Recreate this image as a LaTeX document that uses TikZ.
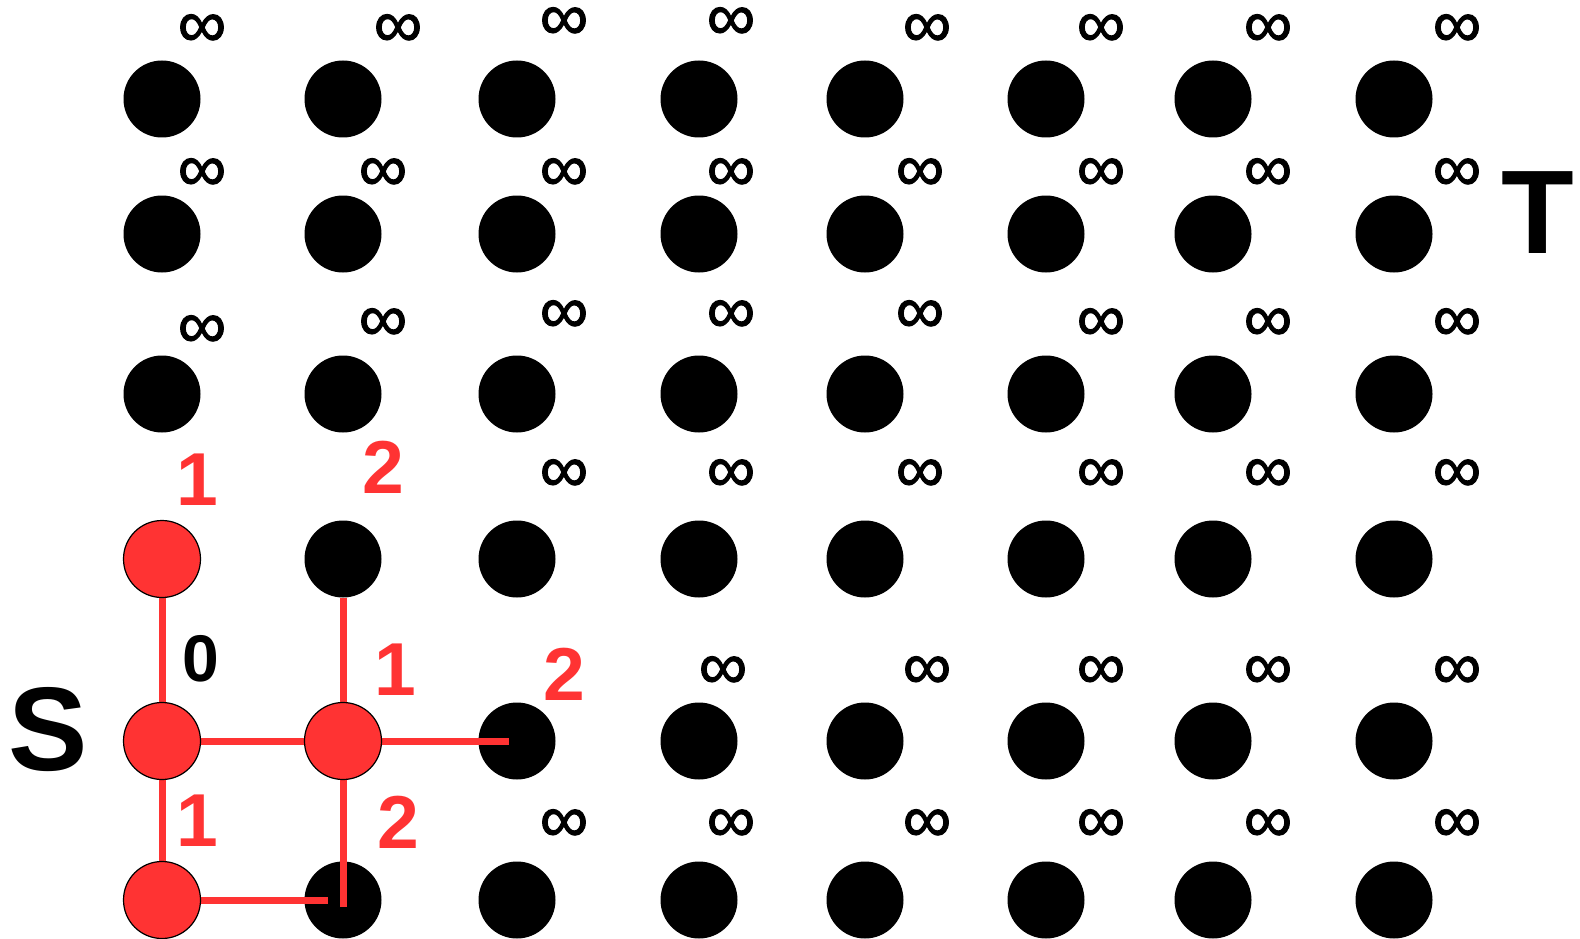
\documentclass[tikz,border=0pt]{standalone}
\usepackage{fontspec}
\setmainfont{Liberation Sans}
\newfontfamily\inffont[FakeBold=1.5]{Liberation Sans}
\definecolor{myred}{HTML}{FF3333}
\pgfdeclarelayer{lines}
\pgfdeclarelayer{front}
\pgfsetlayers{main,lines,front}
\begin{document}
\begin{tikzpicture}[x=1pt,y=-1pt,
  dot/.style={circle,fill=black,minimum size=77pt,inner sep=0pt},
  rdot/.style={circle,fill=myred,draw=black,line width=1.2pt,minimum size=77pt,inner sep=0pt},
  inf/.style={font=\inffont\fontsize{68}{68}\selectfont,inner sep=0pt,text height=30pt,text depth=0pt,yshift=-6pt},
  num/.style={font=\fontsize{75}{75}\selectfont\bfseries,inner sep=0pt,text=myred},
  zero/.style={font=\fontsize{66}{66}\selectfont\bfseries,inner sep=0pt,text=black},
  big/.style={font=\fontsize{119}{119}\selectfont\bfseries,inner sep=0pt},
  redline/.style={draw=myred,line width=7pt}]
\useasboundingbox (0,0) rectangle (1580,939);
% black dots
\foreach \x [count=\i] in {162,343,517,699,865,1046,1213,1394} {
  \foreach \y [count=\j] in {99,234,394,559,741,900} {
    \node[dot] (n\i-\j) at (\x,\y) {};
  }
}
% red dots
\begin{pgfonlayer}{front}
\node[rdot] (n1-4) at (162,559) {};
\node[rdot] (n1-5) at (162,741) {};
\node[rdot] (n2-5) at (343,741) {};
\node[rdot] (n1-6) at (162,900) {};
\end{pgfonlayer}
% free ends
\coordinate (e35) at (509,741);
\coordinate (e26) at (343,907);
\coordinate (e16) at (328,900);
\begin{pgfonlayer}{lines}
\draw[redline] (n1-4.center) -- (n1-5.center);
\draw[redline] (n1-5.center) -- (n1-6.center);
\draw[redline] (n1-5.center) -- (n2-5.center);
\draw[redline] (n2-5.center) -- (e35);
\draw[redline] (n2-4.south) -- (n2-5.center);
\draw[redline] (n2-5.center) -- (e26);
\draw[redline] (n1-6.center) -- (e16);
\end{pgfonlayer}
% infinity labels row 1
\foreach \x/\y [count=\k] in {202/26,398/26,564/19,731/19,927/26,1101/26,1268/26,1457/26}
  \node[inf] (ia\k) at (\x,\y) {∞};
% row 2
\foreach \x/\y [count=\k] in {202/170,383/170,564/170,731/170,920/170,1101/170,1268/170,1457/170}
  \node[inf] (ib\k) at (\x,\y) {∞};
% row 3
\foreach \x/\y [count=\k] in {202/327,383/320,564/312,731/312,920/312,1101/320,1268/320,1457/320}
  \node[inf] (ic\k) at (\x,\y) {∞};
% row 4
\foreach \x/\y [count=\k] in {564/471,731/471,920/471,1101/471,1268/471,1457/471}
  \node[inf] (id\k) at (\x,\y) {∞};
% row 5
\foreach \x/\y [count=\k] in {723/668,927/668,1101/668,1268/668,1457/668}
  \node[inf] (ie\k) at (\x,\y) {∞};
% row 6
\foreach \x/\y [count=\k] in {564/821,731/821,927/821,1101/821,1268/821,1457/821}
  \node[inf] (if\k) at (\x,\y) {∞};
% distance labels
\node[num] (d14) at (197,480) {1};
\node[num] (d24) at (383,467) {2};
\node[zero] (d15) at (201,659) {0};
\node[num] (d25) at (395,670) {1};
\node[num] (d35) at (564,674) {2};
\node[num] (d16) at (197,821) {1};
\node[num] (d26) at (398,822) {2};
% S and T
\node[big] (S) at (48,730) {S};
\node[big] (T) at (1538,213) {T};
\end{tikzpicture}
\end{document}
